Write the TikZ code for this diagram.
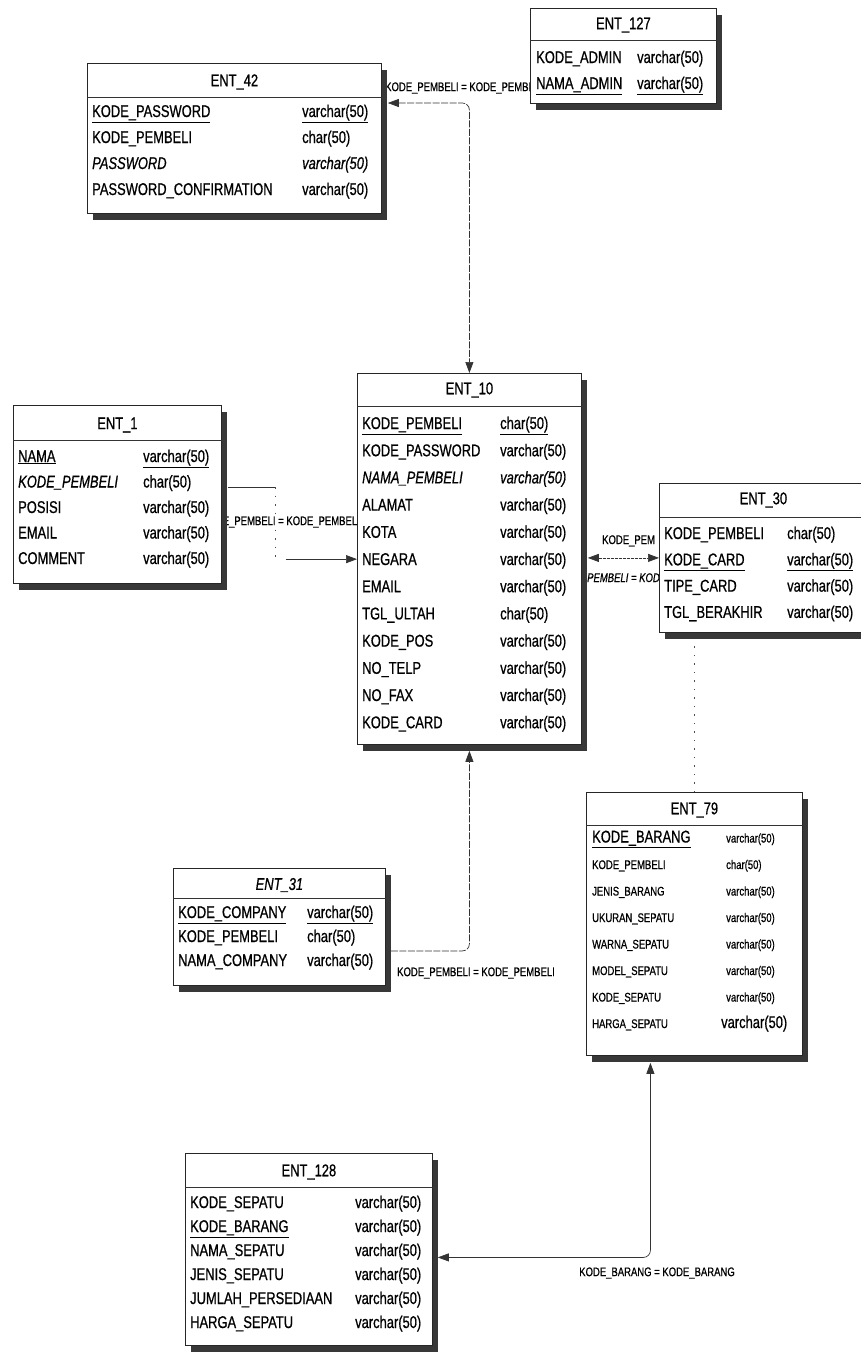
\documentclass[tikz,border=0pt]{standalone}
\usepackage{fontspec}
\setmainfont{Liberation Sans}[FakeStretch=0.76,FakeBold=0.7]
\usetikzlibrary{arrows.meta,positioning,calc,shadows,backgrounds}

\begin{document}
\begin{tikzpicture}[x=1pt,y=-1pt,
    entbox/.style={rectangle,draw=black!85,line width=0.8pt,fill=white,anchor=north west,inner sep=0pt,
      drop shadow={shadow xshift=6pt,shadow yshift=-7pt,opacity=1,fill=black!78}},
    enttitle/.style={inner sep=1pt,font=\fontsize{17}{20}\selectfont,text=black},
    colname/.style={anchor=base west,inner sep=0pt,font=\fontsize{17}{20}\selectfont,text=black},
    coltype/.style={colname},
    colsmall/.style={colname,font=\fontsize{12.5}{15}\selectfont},
    divider/.style={draw=black!80,line width=0.6pt},
    link/.style={draw=black!80,line width=0.7pt,rounded corners=7pt},
    linkdash/.style={link,dash pattern=on 7pt off 1.5pt},
    linkdot/.style={draw=black!70,line width=0.7pt,dash pattern=on 1.5pt off 7pt},
    endtip/.style={-{Triangle[length=11pt,width=8pt]}},
    bothtips/.style={{Triangle[length=11pt,width=8pt]}-{Triangle[length=11pt,width=8pt]}},
    rel/.style={inner sep=0pt,font=\fontsize{12.5}{15}\selectfont,text=black}
]
\useasboundingbox (0,0) rectangle (861,1365);
\clip (0,0) rectangle (861,1365);

% ENT_127
\node[entbox,minimum width=186pt,minimum height=95pt] (ent127) at (530,8) {};
\node[enttitle] (ent127h) at ([shift={(0,17)}]ent127.north) {ENT\_127};
\draw[divider] ([shift={(0,32)}]ent127.north west) -- ([shift={(0,32)}]ent127.north east);
\foreach \n/\t [count=\i] in {KODE\_ADMIN/varchar(50),{\underline{NAMA\_ADMIN}}/{\underline{varchar(50)}}}
  {\node[colname] (ent127n\i) at (536,37+26*\i) {\n};
   \node[coltype] (ent127t\i) at (637,37+26*\i) {\t};}

% ENT_42
\node[entbox,minimum width=294pt,minimum height=150pt] (ent42) at (87,63) {};
\node[enttitle] (ent42h) at ([shift={(0,19)}]ent42.north) {ENT\_42};
\draw[divider] ([shift={(0,34)}]ent42.north west) -- ([shift={(0,34)}]ent42.north east);
\foreach \n/\t [count=\i] in {{\underline{KODE\_PASSWORD}}/{\underline{varchar(50)}},KODE\_PEMBELI/char(50),
    {\itshape PASSWORD}/{\itshape varchar(50)},PASSWORD\_CONFIRMATION/varchar(50)}
  {\node[colname] (ent42n\i) at (92,91+26*\i) {\n};
   \node[coltype] (ent42t\i) at (302,91+26*\i) {\t};}

% ENT_1
\node[entbox,minimum width=208pt,minimum height=178pt] (ent1) at (13,405) {};
\node[enttitle] (ent1h) at ([shift={(0,20)}]ent1.north) {ENT\_1};
\draw[divider] ([shift={(0,35)}]ent1.north west) -- ([shift={(0,35)}]ent1.north east);
\foreach \n/\t [count=\i] in {{\underline{NAMA}}/{\underline{varchar(50)}},{\itshape KODE\_PEMBELI}/char(50),
    POSISI/varchar(50),EMAIL/varchar(50),COMMENT/varchar(50)}
  {\node[colname] (ent1n\i) at (18,436.5+25.5*\i) {\n};
   \node[coltype] (ent1t\i) at (143,436.5+25.5*\i) {\t};}

% ENT_10
\node[entbox,minimum width=224pt,minimum height=371pt] (ent10) at (357,373) {};
\node[enttitle] (ent10h) at ([shift={(0,17)}]ent10.north) {ENT\_10};
\draw[divider] ([shift={(0,33)}]ent10.north west) -- ([shift={(0,33)}]ent10.north east);
\foreach \n/\t [count=\i] in {{\underline{KODE\_PEMBELI}}/{\underline{char(50)}},KODE\_PASSWORD/varchar(50),
    {\itshape NAMA\_PEMBELI}/{\itshape varchar(50)},ALAMAT/varchar(50),KOTA/varchar(50),NEGARA/varchar(50),
    EMAIL/varchar(50),TGL\_ULTAH/char(50),KODE\_POS/varchar(50),NO\_TELP/varchar(50),NO\_FAX/varchar(50),
    KODE\_CARD/varchar(50)}
  {\node[colname] (ent10n\i) at (362,401.8+27.2*\i) {\n};
   \node[coltype] (ent10t\i) at (500,401.8+27.2*\i) {\t};}

% ENT_30
\node[entbox,minimum width=208pt,minimum height=149pt] (ent30) at (659,483) {};
\node[enttitle] (ent30h) at ([shift={(0,17)}]ent30.north) {ENT\_30};
\draw[divider] ([shift={(0,34)}]ent30.north west) -- ([shift={(0,34)}]ent30.north east);
\foreach \n/\t [count=\i] in {KODE\_PEMBELI/char(50),{\underline{KODE\_CARD}}/{\underline{varchar(50)}},
    TIPE\_CARD/varchar(50),TGL\_BERAKHIR/varchar(50)}
  {\node[colname] (ent30n\i) at (664,512.7+26.3*\i) {\n};
   \node[coltype] (ent30t\i) at (787,512.7+26.3*\i) {\t};}

% ENT_31
\node[entbox,minimum width=212pt,minimum height=117pt] (ent31) at (173,868) {};
\node[enttitle] (ent31h) at ([shift={(0,17)}]ent31.north) {\itshape ENT\_31};
\draw[divider] ([shift={(0,30)}]ent31.north west) -- ([shift={(0,30)}]ent31.north east);
\foreach \n/\t [count=\i] in {{\underline{KODE\_COMPANY}}/{\underline{varchar(50)}},KODE\_PEMBELI/char(50),
    NAMA\_COMPANY/varchar(50)}
  {\node[colname] (ent31n\i) at (178,894+24*\i) {\n};
   \node[coltype] (ent31t\i) at (307,894+24*\i) {\t};}

% ENT_79
\node[entbox,minimum width=216pt,minimum height=263pt] (ent79) at (586,792) {};
\node[enttitle] (ent79h) at ([shift={(0,18)}]ent79.north) {ENT\_79};
\draw[divider] ([shift={(0,33)}]ent79.north west) -- ([shift={(0,33)}]ent79.north east);
\foreach \n/\t [count=\i] in {{\fontsize{17}{20}\selectfont\underline{KODE\_BARANG}}/varchar(50),KODE\_PEMBELI/char(50),
    JENIS\_BARANG/varchar(50),UKURAN\_SEPATU/varchar(50),WARNA\_SEPATU/varchar(50),MODEL\_SEPATU/varchar(50),
    KODE\_SEPATU/varchar(50),HARGA\_SEPATU/{\hspace*{-5pt}\fontsize{17}{20}\selectfont varchar(50)}}
  {\node[colsmall] (ent79n\i) at (592,816+26.5*\i) {\n};
   \node[colsmall] (ent79t\i) at (726,816+26.5*\i) {\t};}

% ENT_128
\node[entbox,minimum width=247pt,minimum height=192pt] (ent128) at (185,1153) {};
\node[enttitle] (ent128h) at ([shift={(0,19)}]ent128.north) {ENT\_128};
\draw[divider] ([shift={(0,34)}]ent128.north west) -- ([shift={(0,34)}]ent128.north east);
\foreach \n/\t [count=\i] in {KODE\_SEPATU/varchar(50),{\underline{KODE\_BARANG}}/varchar(50),NAMA\_SEPATU/varchar(50),
    JENIS\_SEPATU/varchar(50),JUMLAH\_PERSEDIAAN/varchar(50),HARGA\_SEPATU/varchar(50)}
  {\node[colname] (ent128n\i) at (190,1184+24*\i) {\n};
   \node[coltype] (ent128t\i) at (355,1184+24*\i) {\t};}

% references
\begin{scope}[on background layer]
\fill[white] (0,0) rectangle (861,1365);
% ENT_42 - ENT_10
\draw[linkdash,bothtips] ([shift={(6,40)}]ent42.north east) -| (ent10.north);
\node[rel,anchor=west] (r42) at (385,88) {KODE\_PEMBELI = KODE\_PEMBELI};
% ENT_1 - ENT_10
\coordinate (b1) at ([shift={(54,82)}]ent1.north east);
\coordinate (b2) at (b1 |- ent10n6.west);
\draw[link] ([shift={(6,82)}]ent1.north east) -- (b1);
\draw[linkdot] (b1) -- (b2);
\draw[link,endtip] ([xshift=10pt]b2) -- (b2 -| ent10.west);
\node[rel,fill=white] (r1) at (281,522) {KODE\_PEMBELI = KODE\_PEMBELI};
% ENT_10 - ENT_30
\draw[link,bothtips,dash pattern=on 3pt off 1pt] ($(ent10.east |- ent30.west)+(6,0)$) -- (ent30.west);
\node[rel,anchor=base west] (r30a) at (602,544) {KODE\_PEM};
\node[rel,anchor=base west,font=\fontsize{12.5}{15}\selectfont\itshape] (r30b) at (587,582) {PEMBELI = KOD};
% ENT_31 - ENT_10
\draw[linkdash,endtip] ([shift={(5,24)}]ent31.east) -| ([shift={(0,6)}]ent10.south);
\node[rel,anchor=west] (r31) at (397,973) {KODE\_PEMBELI = KODE\_PEMBELI};
% ENT_30 - ENT_79
\draw[linkdot] (ent79.north) -- (ent79.north |- ent30.south);
% ENT_79 - ENT_128
\draw[link,bothtips] ([shift={(-44,7)}]ent79.south) |- ([shift={(5,8)}]ent128.east);
\node[rel] (r79) at (657,1273) {KODE\_BARANG = KODE\_BARANG};
\end{scope}
\end{tikzpicture}
\end{document}
